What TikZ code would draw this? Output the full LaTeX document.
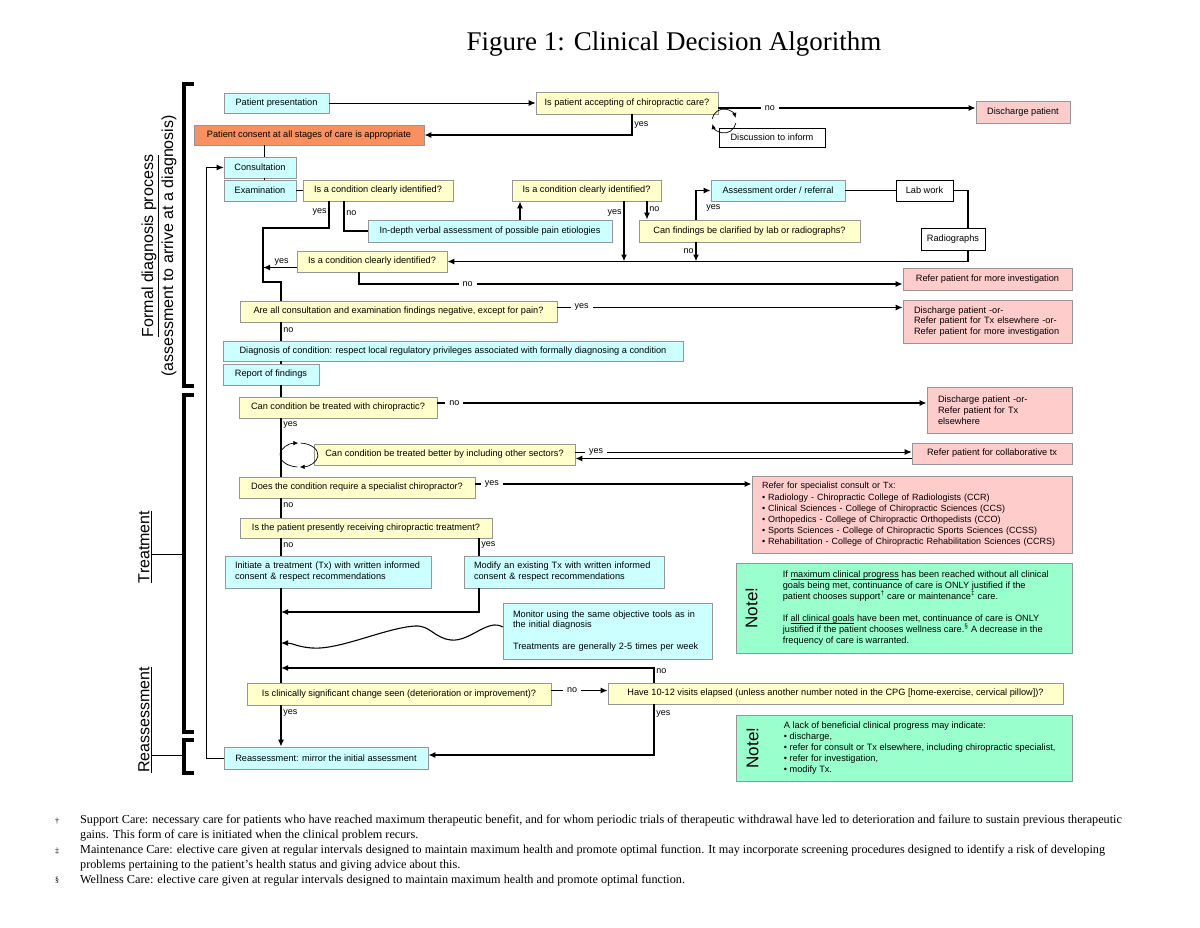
\documentclass[tikz,border=0pt]{standalone}
\usepackage{fontspec}
\setmainfont{Liberation Serif}
\setsansfont{Liberation Sans}
\usepackage{tikz}
\usetikzlibrary{arrows.meta}
\usepackage{xcolor}
\definecolor{cdcyan}{RGB}{204,255,255}
\definecolor{cdyellow}{RGB}{255,255,204}
\definecolor{cdpink}{RGB}{255,204,204}
\definecolor{cdorange}{RGB}{248,144,96}
\definecolor{cdgreen}{RGB}{153,255,204}
\definecolor{cdframe}{RGB}{150,150,150}
\newcommand{\boxfont}{\sffamily\fontsize{9.2}{10.8}\selectfont}
\newcommand{\noteul}[1]{\underline{\smash{#1}}}
\tikzstyle{flow} = [line width=1.6pt]
\tikzstyle{arrow} = [line width=1.6pt,-{Latex[length=7pt,width=6pt]}]
\tikzstyle{thinarrow} = [line width=0.9pt,-{Latex[length=7pt,width=6pt]}]
\tikzstyle{looparrow} = [line width=0.7pt,-{Latex[length=5pt,width=4.5pt]}]

\begin{document}
\begin{tikzpicture}[x=1pt, y=-1pt,
    wh/.style 2 args={minimum width=#1pt, minimum height=#2pt},
    box/.style={draw=cdframe, line width=0.7pt, inner sep=0pt, font=\boxfont},
    bluebox/.style={box, fill=cdcyan},
    askbox/.style={box, fill=cdyellow},
    pinkbox/.style={box, fill=cdpink},
    plainbox/.style={box, draw=black, fill=white},
    notebox/.style={box, fill=cdgreen},
    lab/.style={font=\sffamily\fontsize{9}{10}\selectfont, inner sep=1.5pt},
    gap/.style={lab, fill=white, inner xsep=4pt},
    bracket/.style={line width=3.5pt},
    sidelabel/.style={rotate=90, align=center, font=\sffamily\fontsize{16}{20}\selectfont},
    notetag/.style={rotate=90, inner sep=0pt, font=\sffamily\fontsize{17}{20}\selectfont},
    notetext/.style={anchor=west, align=left, inner sep=0pt, font=\sffamily\fontsize{9.2}{11}\selectfont}
]
\fill[white] (0,0) rectangle (1200,927);
\useasboundingbox (0,0) rectangle (1200,927);

\node[font=\fontsize{27}{32}\selectfont] (title) at (674,44) {Figure 1: Clinical Decision Algorithm};

% formal diagnosis process
\node[bluebox, wh={105}{20}] (pres) at (276.5,103) {Patient presentation};
\node[askbox, wh={182}{22}] (acc) at (627,103) {Is patient accepting of chiropractic care?};
\node[pinkbox, wh={94}{22}] (dis1) at (1023,112) {Discharge patient};
\node[plainbox, wh={106}{19}] (disc) at (772,137.5) {Discussion to inform};
\node[box, fill=cdorange, wh={230}{20}] (consent) at (309,135) {Patient consent at all stages of care is appropriate};
\node[bluebox, wh={72}{21}] (cons) at (260,167.5) {Consultation};
\node[bluebox, wh={72}{21}] (exam) at (260,190.5) {Examination};
\node[askbox, wh={150}{21}] (q1) at (378,190.5) {Is a condition clearly identified?};
\node[askbox, wh={149}{21}] (q2) at (586.5,190.5) {Is a condition clearly identified?};
\node[bluebox, wh={134}{21}] (assess) at (778,190.5) {Assessment order / referral};
\node[plainbox, wh={57}{21}] (labwork) at (924.5,190.5) {Lab work};
\node[bluebox, wh={244}{22}] (indepth) at (490,231) {In-depth verbal assessment of possible pain etiologies};
\node[askbox, wh={221}{22}] (canf) at (749.5,231) {Can findings be clarified by lab or radiographs?};
\node[plainbox, wh={64}{22}] (radiog) at (953,239) {Radiographs};
\node[askbox, wh={150}{21}] (q3) at (372,261.5) {Is a condition clearly identified?};
\node[pinkbox, wh={169}{22}] (refer1) at (987.5,279) {Refer patient for more investigation};
\node[askbox, wh={317}{21}] (q4) at (398.5,311.5) {Are all consultation and examination findings negative, except for pain?};
\node[pinkbox, wh={169}{43}, text width=147pt, inner xsep=11pt, align=left] (dis3) at (987.5,321.5) {Discharge patient -or-\\Refer patient for Tx elsewhere -or-\\Refer patient for more investigation};
\node[bluebox, wh={460}{20}] (diag) at (453,351) {Diagnosis of condition: respect local regulatory privileges associated with formally diagnosing a condition};
\node[bluebox, wh={96}{21}] (report) at (271,374.5) {Report of findings};

% treatment
\node[askbox, wh={198}{21}] (q5) at (338,407.5) {Can condition be treated with chiropractic?};
\node[pinkbox, wh={145}{46}, text width=123pt, inner xsep=11pt, align=left] (dis2) at (999.5,410) {Discharge patient -or-\\Refer patient for Tx\\elsewhere};
\node[askbox, wh={261}{21}] (q6) at (444.5,454.5) {Can condition be treated better by including other sectors?};
\node[pinkbox, wh={160}{21}] (collab) at (992,453.5) {Refer patient for collaborative tx};
\node[askbox, wh={236}{21}] (q7) at (357,487.5) {Does the condition require a specialist chiropractor?};
\node[pinkbox, wh={320}{77}, text width=300pt, inner xsep=10pt, align=left, font=\sffamily\fontsize{9}{11.2}\selectfont] (spec) at (912,514.5) {Refer for specialist consult or Tx:\\• Radiology - Chiropractic College of Radiologists (CCR)\\• Clinical Sciences - College of Chiropractic Sciences (CCS)\\• Orthopedics - College of Chiropractic Orthopedists (CCO)\\• Sports Sciences - College of Chiropractic Sports Sciences (CCSS)\\• Rehabilitation - College of Chiropractic Rehabilitation Sciences (CCRS)};
\node[askbox, wh={252}{20}] (q8) at (366,528) {Is the patient presently receiving chiropractic treatment?};
\node[bluebox, wh={206}{32}, text width=186pt, inner xsep=10pt, align=left] (init) at (328,572) {Initiate a treatment (Tx) with written informed\\consent \& respect recommendations};
\node[bluebox, wh={200}{32}, text width=180pt, inner xsep=10pt, align=left] (modify) at (564,572) {Modify an existing Tx with written informed\\consent \& respect recommendations};
\node[bluebox, wh={209}{56}, text width=189pt, inner xsep=10pt, align=left] (monitor) at (607.5,631) {Monitor using the same objective tools as in\\the initial diagnosis\\[10.8pt]Treatments are generally 2-5 times per week};
\node[notebox, wh={336}{90}] (note1) at (904,608) {};
\node[notetag] (note1tag) at ([xshift=16]note1.west) {Note!};
\node[notetext] (note1text) at ([xshift=47]note1.west) {If \noteul{maximum clinical progress} has been reached without all clinical\\goals being met, continuance of care is ONLY justified if the\\patient chooses support\textsuperscript{†} care or maintenance\textsuperscript{‡} care.\\[11pt]If \noteul{all clinical goals} have been met, continuance of care is ONLY\\justified if the patient chooses wellness care.\textsuperscript{§} A decrease in the\\frequency of care is warranted.};

% reassessment
\node[askbox, wh={304}{22}] (q9) at (399,694) {Is clinically significant change seen (deterioration or improvement)?};
\node[askbox, wh={455}{21}] (q10) at (835.5,693.5) {Have 10-12 visits elapsed (unless another number noted in the CPG [home-exercise, cervical pillow])?};
\node[notebox, wh={336}{66}] (note2) at (904,748) {};
\node[notetag] (note2tag) at ([xshift=17]note2.west) {Note!};
\node[notetext] (note2text) at ([xshift=48]note2.west) {A lack of beneficial clinical progress may indicate:\\• discharge,\\• refer for consult or Tx elsewhere, including chiropractic specialist,\\• refer for investigation,\\• modify Tx.};
\node[bluebox, wh={204}{22}] (reass) at (326,758) {Reassessment: mirror the initial assessment};

% bends of the main line
\coordinate (j1) at (263,228);
\coordinate (j3) at (281,282);
\coordinate (j5) at (281,612);
\coordinate (j6) at (281,643);
\coordinate (j7) at (281,668);
\coordinate (loop) at (724,121);
\coordinate (loop2) at (299,455);

% connectors, top part
\draw[thinarrow] (pres) -- (acc);
\draw[arrow] ([yshift=-5]acc.east) -- node[gap, pos=0.2] {no} ([yshift=-5]acc.east -| dis1.west);
\draw[arrow] ([xshift=5]acc.south) |- node[lab, right, pos=0.25] {yes} (consent.east);
\draw[looparrow] ([shift={(10:12)}]loop) arc[start angle=10, end angle=165, radius=12];
\draw[looparrow] ([shift={(190:12)}]loop) arc[start angle=190, end angle=345, radius=12];
\draw[line width=0.8pt] ([xshift=4]cons.north) -- ([xshift=4]cons.north |- consent.south);
\draw[line width=0.8pt] ([xshift=4]cons.south) -- ([xshift=4]exam.north);
\draw[flow] (exam) -- (q1);
\draw[flow] ([xshift=-49]q1.south) |- node[lab, left, pos=0.2] {yes} (j1) |- (j3) -- (j3 |- q4.north);
\draw[flow] ([xshift=-34]q1.south) |- node[lab, right, pos=0.2] {no} (indepth.west);
\draw[arrow] ([xshift=30]indepth.north) -- ([xshift=30]indepth.north |- q2.south);
\draw[arrow] ([xshift=37.5]q2.south) -- node[lab, left, pos=0.2] {yes} ([xshift=37.5]q2.south |- q3.east);
\draw[arrow] ([xshift=60.5]q2.south) -- node[lab, right, pos=0.4] {no} ([xshift=60.5]q2.south |- canf.north);
\draw[arrow] ([xshift=-53.5]canf.north) |- node[lab, right, pos=0.2, xshift=8] {yes} (assess.west);
\draw[arrow] ([xshift=-53.5]canf.south) -- node[lab, left, pos=0.45] {no} ([xshift=-53.5]canf.south |- q3.east);
\draw[flow] (assess) -- (labwork);
\draw[flow] (labwork.east) -| ([xshift=15]radiog.north);
\draw[arrow] ([xshift=15]radiog.south) |- (q3.east);
\draw[arrow] ([yshift=-6]q3.west) -- node[lab, above, pos=0.45] {yes} ([yshift=-6]q3.west -| j1);
\draw[arrow] ([xshift=-13]q3.south) |- node[gap, pos=0.6] {no} ([yshift=-5]refer1.west);
\draw[arrow] ([yshift=4]q4.east) -- node[gap, pos=0.07] {yes} ([yshift=4]q4.east -| dis3.west);
\draw[flow] (j3 |- q4.south) -- node[lab, right, pos=0.4] {no} (j3 |- diag.north);
\draw[flow] (j3 |- diag.south) -- (j3 |- report.north);
\draw[flow] (j3 |- report.south) -- (j3 |- q5.north);

% connectors, treatment
\draw[arrow] ([yshift=4.5]q5.east) -- node[gap, pos=0.035] {no} ([yshift=4.5]q5.east -| dis2.west);
\draw[flow] (j3 |- q5.south) -- node[lab, right, pos=0.12] {yes} (j3 |- q7.north);
\draw[looparrow] ([shift={(95:19 and 12)}]loop2) arc[start angle=95, end angle=268, x radius=19, y radius=12];
\draw[looparrow] ([shift={(275:19 and 12)}]loop2) arc[start angle=275, end angle=448, x radius=19, y radius=12];
\draw[thinarrow] ([yshift=2.5]q6.east) -- node[gap, pos=0.062] {yes} ([yshift=2.5]q6.east -| collab.west);
\draw[arrow] ([yshift=-5]collab.west) -- ([yshift=-5]collab.west -| q6.east);
\draw[arrow] ([yshift=3.5]q7.east) -- node[gap, pos=0.06] {yes} ([yshift=3.5]q7.east -| spec.west);
\draw[flow] (j3 |- q7.south) -- node[lab, right, pos=0.35] {no} (j3 |- q8.north);
\draw[flow] (j3 |- q8.south) -- node[lab, right, pos=0.4] {no} (j3 |- init.north);
\draw[flow] ([xshift=113]q8.south) -- node[lab, right, pos=0.4] {yes} ([xshift=113]q8.south |- modify.north);
\draw[flow] (j3 |- init.south) -- (j3 |- q9.north);
\draw[arrow] ([xshift=-85]modify.south) |- (j5);
\draw[arrow, line width=1.1pt] ([yshift=4]monitor.west) .. controls (488,618) and (470,642) .. (451,640) .. controls (434,638) and (430,625) .. (415,626) .. controls (385,628) and (340,650) .. (312,648) .. controls (298,647) and (292,643) .. (j6);

% connectors, reassessment
\draw[arrow] ([xshift=-181.5]q10.north) |- node[lab, right, pos=0.4] {no} (j7);
\draw[arrow] ([yshift=3.5]q9.east) -- node[gap, pos=0.37] {no} ([yshift=3.5]q9.east -| q10.west);
\draw[arrow] (j3 |- q9.south) -- node[lab, right, pos=0.19] {yes} (j3 |- reass.north);
\draw[arrow] ([xshift=-181.5]q10.south) |- node[lab, right, pos=0.1] {yes} ([yshift=3]reass.east);
\draw[thinarrow] (reass.west) -| ([xshift=-17]cons.west) -- (cons.west);

% phase brackets
\draw[bracket] (194,84) -- (184,84) -- (184,386) -- (194,386);
\draw[bracket] (194,395) -- (184,395) -- (184,732) -- (194,732);
\draw[bracket] (194,740) -- (184,740) -- (184,773) -- (194,773);
\node[sidelabel] (formal) at (159,246) {\underline{Formal diagnosis process}\\(assessment to arrive at a diagnosis)};
\node[sidelabel] (treat) at (145,547) {\underline{Treatment}};
\node[sidelabel] (reasslab) at (145,720) {\underline{Reassessment}};
\draw[line width=0.8pt] (152,554) -- (184,554);
\draw[line width=0.8pt] (152,755) -- (184,755);

% footnotes
\node[font=\fontsize{8}{9}\selectfont, inner sep=0pt] (fnm1) at (57,821) {†};
\node[font=\fontsize{8}{9}\selectfont, inner sep=0pt] (fnm2) at (57,851) {‡};
\node[font=\fontsize{8}{9}\selectfont, inner sep=0pt] (fnm3) at (57,880) {§};
\node[anchor=north west, align=left, inner sep=0pt, font=\fontsize{12.2}{14.8}\selectfont] (fn) at (80,815) {Support Care: necessary care for patients who have reached maximum therapeutic benefit, and for whom periodic trials of therapeutic withdrawal have led to deterioration and failure to sustain previous therapeutic\\gains. This form of care is initiated when the clinical problem recurs.\\Maintenance Care: elective care given at regular intervals designed to maintain maximum health and promote optimal function. It may incorporate screening procedures designed to identify a risk of developing\\problems pertaining to the patient's health status and giving advice about this.\\Wellness Care: elective care given at regular intervals designed to maintain maximum health and promote optimal function.};
\end{tikzpicture}
\end{document}
